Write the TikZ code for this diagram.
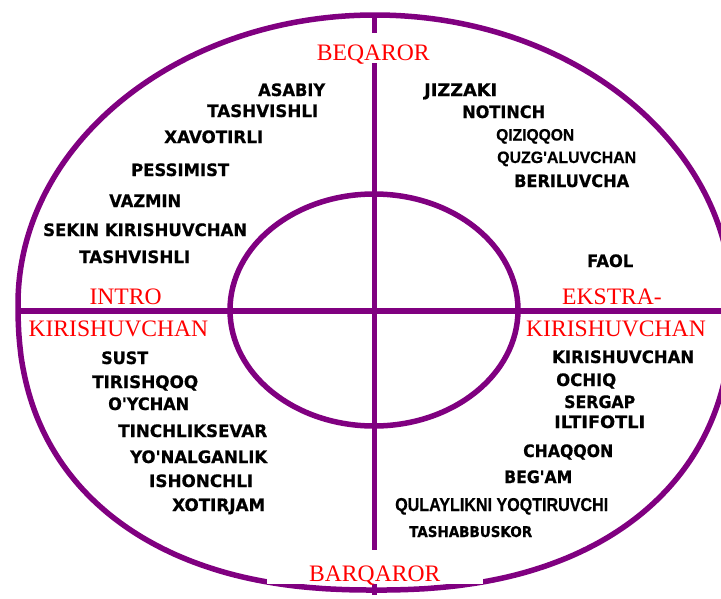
\documentclass[tikz,border=0pt]{standalone}
\usepackage{fontspec}
\newfontfamily\vfont{DejaVu Sans}[BoldFeatures={FakeBold=0.6}]
\newfontfamily\afont{Liberation Sans}[BoldFeatures={FakeBold=0.5}]
\newfontfamily\rfont{Liberation Serif}
\definecolor{pu}{RGB}{128,0,128}
\definecolor{rd}{RGB}{255,0,0}
\newcommand\wt[2]{\resizebox{#1pt}{12.7pt}{#2}}
\newcommand\wh[3]{\resizebox{#1pt}{#2pt}{#3}}
\begin{document}
\begin{tikzpicture}[x=1pt,y=-1pt,
  pl/.style={draw=pu,line width=5.5pt},
  vt/.style={anchor=base west,inner sep=0pt,font=\vfont\bfseries\fontsize{16}{18}\selectfont},
  atx/.style={anchor=base west,inner sep=0pt,font=\afont\bfseries\fontsize{16}{18}\selectfont},
  rl/.style={anchor=base west,inner sep=0pt,text=rd,font=\rfont\fontsize{23.6}{26}\selectfont}]
\useasboundingbox (0,0) rectangle (721,598);
\fill[white] (0,0) rectangle (721,598);
% outer shape
\draw[pl] (732,304) arc[start angle=0,end angle=180,x radius=357pt,y radius=289pt]
  -- plot[domain=180.01:359.99,samples=181,smooth] ({375+357*cos(\x)*max(abs(cos(\x)),0.0001)^(-0.1304)},{304+286*max(abs(sin(\x)),0.0001)^(0.8696)}) -- cycle;
% inner ellipse
\draw[pl] (374,310) ellipse [x radius=144pt, y radius=116pt];
% axes
\draw[pl] (18,311) -- (725,311);
\fill[white] (267,550) rectangle (483,584);
\draw[pl] (374.5,15) -- (374.5,33);
\draw[pl] (374.5,63) -- (374.5,550);
\draw[pl] (374.5,584) -- (374.5,595);
% red labels
\node[rl] (beq) at (316.7,60) {BEQAROR};
\node[rl] (intro) at (89.4,304) {INTRO};
\node[rl] (kirl) at (28.4,336.7) {KIRISHUVCHAN};
\node[rl] (eks) at (562,304) {EKSTRA-};
\node[rl] (kirr) at (526,336.7) {KIRISHUVCHAN};
\node[rl] (barq) at (309,581.7) {BARQAROR};
% upper left
\node[vt] (a1) at (258,96) {\wt{67}{ASABIY}};
\node[vt] (a2) at (207,117) {\wt{111}{TASHVISHLI}};
\node[vt] (a3) at (164,143) {\wt{99}{XAVOTIRLI}};
\node[vt] (a4) at (131,176) {\wt{98}{PESSIMIST}};
\node[vt] (a5) at (109,207) {\wt{72}{VAZMIN}};
\node[vt] (a6) at (43,236) {\wt{204}{SEKIN KIRISHUVCHAN}};
\node[vt] (a7) at (79,263) {\wt{111}{TASHVISHLI}};
% upper right
\node[vt] (b1) at (424,96) {\wt{73}{JIZZAKI}};
\node[vt] (b2) at (462,118) {\wt{83}{NOTINCH}};
\node[atx] (b3) at (496,140.5) {\wh{78}{11.5}{QIZIQQON}};
\node[atx] (b4) at (497,163) {\wh{139}{11.5}{QUZG'ALUVCHAN}};
\node[vt] (b5) at (514,187) {\wt{115}{BERILUVCHA}};
\node[vt] (b6) at (587,267) {\wt{46}{FAOL}};
% lower left
\node[vt] (c1) at (101,364) {\wt{47}{SUST}};
\node[vt] (c2) at (92,388) {\wt{106}{TIRISHQOQ}};
\node[vt] (c3) at (108,410) {\wt{81}{O'YCHAN}};
\node[vt] (c4) at (118,437) {\wt{149}{TINCHLIKSEVAR}};
\node[vt] (c5) at (130,463) {\wt{137}{YO'NALGANLIK}};
\node[vt] (c6) at (149,487) {\wt{104}{ISHONCHLI}};
\node[vt] (c7) at (172,511) {\wt{93}{XOTIRJAM}};
% lower right
\node[vt] (d1) at (552,363) {\wt{142}{KIRISHUVCHAN}};
\node[vt] (d2) at (556,386) {\wt{60}{OCHIQ}};
\node[vt] (d3) at (564,408) {\wt{71}{SERGAP}};
\node[vt] (d4) at (554,428) {\wt{91}{ILTIFOTLI}};
\node[vt] (d5) at (523,457) {\wt{90}{CHAQQON}};
\node[vt] (d6) at (504,483) {\wt{68}{BEG'AM}};
\node[atx] (d7) at (395,511) {\wh{213}{13}{QULAYLIKNI YOQTIRUVCHI}};
\node[vt] (d8) at (409,537) {\wh{123}{11}{TASHABBUSKOR}};
\end{tikzpicture}
\end{document}
